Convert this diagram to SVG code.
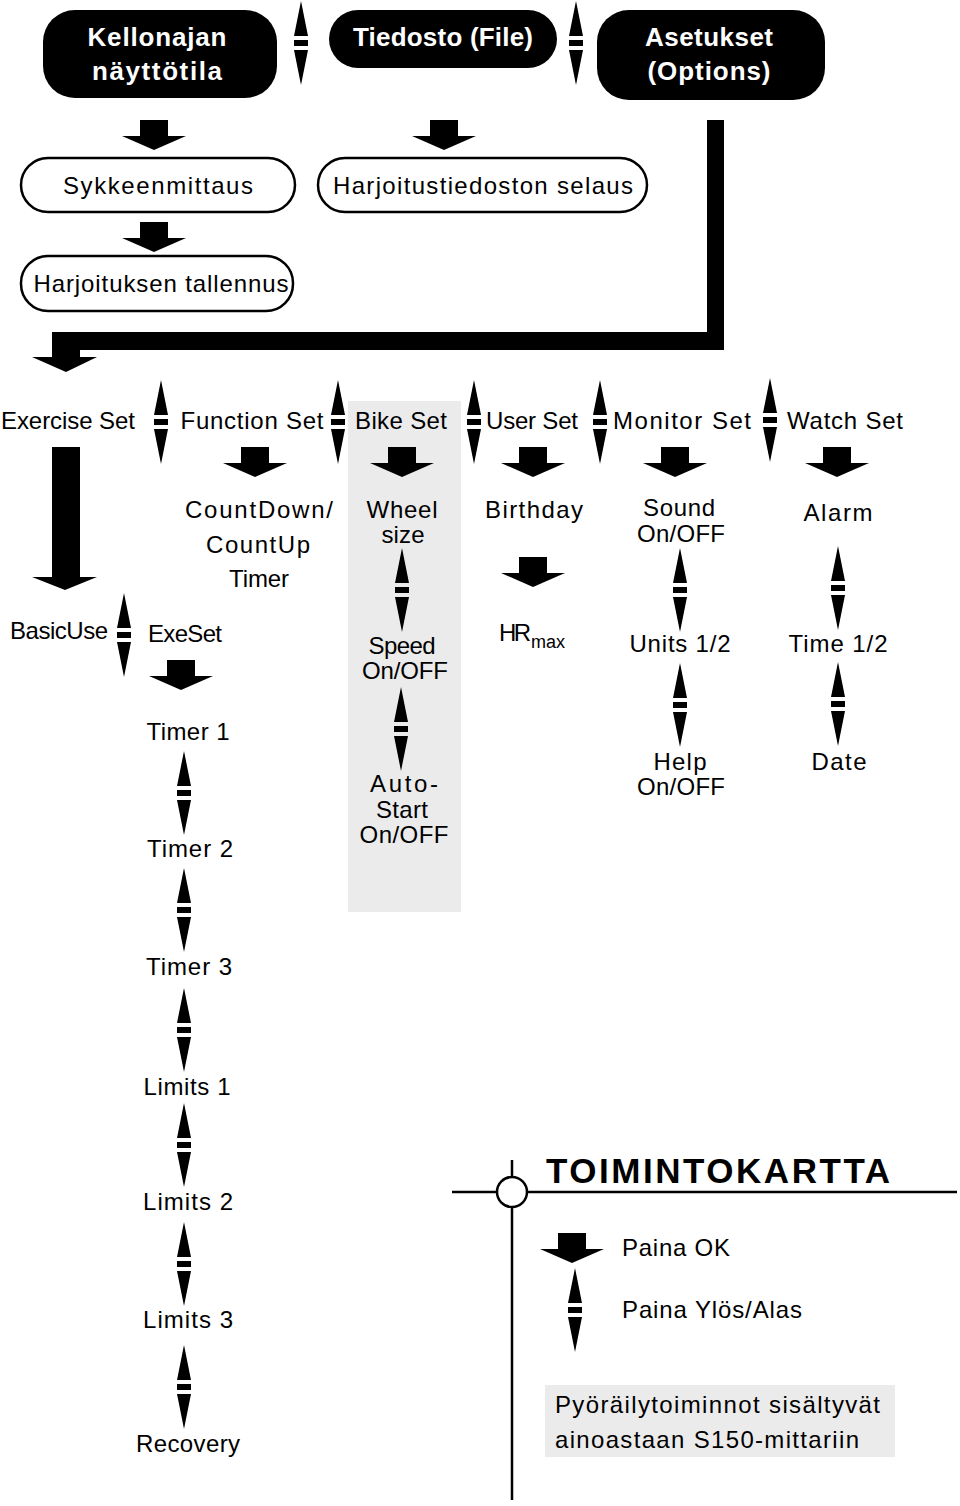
<svg xmlns="http://www.w3.org/2000/svg" xmlns:xlink="http://www.w3.org/1999/xlink" width="960" height="1506" viewBox="0 0 960 1506">
<style>
.t{font-family:"Liberation Sans",Arial,sans-serif;font-size:24px;fill:#000;text-anchor:middle}
.l{text-anchor:start}
.w{font-family:"Liberation Sans",Arial,sans-serif;font-size:26px;font-weight:bold;fill:#fff;text-anchor:middle}
.blk{fill:#000}
.pill{fill:#fff;stroke:#000;stroke-width:2.5}
.gray{fill:#ebebeb}
</style>
<defs>
<g id="ud"><polygon points="0,0 7,35 -7,35"/><rect x="-7" y="39" width="14" height="6"/><polygon points="-7,49 7,49 0,84"/></g>
<g id="dn"><rect x="-14" y="0" width="28" height="16"/><polygon points="-32,16 32,16 0,30"/></g>
</defs>
<rect width="960" height="1506" fill="#fff"/>
<rect id="bike-bg" class="gray" x="348" y="401" width="113" height="511"/>

<g id="n-kello"><rect class="blk" x="43" y="10" width="234" height="88" rx="32"/><text class="w" x="157" y="46" textLength="139" lengthAdjust="spacing">Kellonajan</text><text class="w" x="157" y="80" textLength="130" lengthAdjust="spacing">näyttötila</text></g>
<g id="n-tiedosto"><rect class="blk" x="329" y="10" width="228" height="58" rx="29"/><text class="w" x="443" y="46" textLength="180" lengthAdjust="spacing">Tiedosto (File)</text></g>
<g id="n-asetukset"><rect class="blk" x="597" y="10" width="228" height="90" rx="32"/><text class="w" x="709" y="46" textLength="128" lengthAdjust="spacing">Asetukset</text><text class="w" x="709" y="80" textLength="123" lengthAdjust="spacing">(Options)</text></g>
<g id="n-sykke"><rect class="pill" x="21" y="158" width="274" height="54" rx="27"/><text class="t" x="158" y="194" textLength="190" lengthAdjust="spacing">Sykkeenmittaus</text></g>
<g id="n-selaus"><rect class="pill" x="318" y="158" width="329" height="54" rx="27"/><text class="t" x="483" y="194" textLength="300" lengthAdjust="spacing">Harjoitustiedoston selaus</text></g>
<g id="n-tallennus"><rect class="pill" x="21" y="256" width="272" height="55" rx="27"/><text class="t" x="161" y="292" textLength="255" lengthAdjust="spacing">Harjoituksen tallennus</text></g>

<g id="n-exercise"><text class="t" x="68" y="429" textLength="134" lengthAdjust="spacing">Exercise Set</text></g>
<g id="n-function"><text class="t" x="252" y="429" textLength="143" lengthAdjust="spacing">Function Set</text></g>
<g id="n-bike"><text class="t" x="401" y="429" textLength="92" lengthAdjust="spacing">Bike Set</text></g>
<g id="n-user"><text class="t" x="532" y="429" textLength="92" lengthAdjust="spacing">User Set</text></g>
<g id="n-monitor"><text class="t" x="682" y="429" textLength="138" lengthAdjust="spacing">Monitor Set</text></g>
<g id="n-watch"><text class="t" x="845" y="429" textLength="116" lengthAdjust="spacing">Watch Set</text></g>

<g id="n-countdown"><text class="t" x="259" y="518" textLength="148" lengthAdjust="spacing">CountDown/</text><text class="t" x="258" y="553" textLength="104" lengthAdjust="spacing">CountUp</text><text class="t" x="259" y="587" textLength="60" lengthAdjust="spacing">Timer</text></g>
<g id="n-wheel"><text class="t" x="402" y="518" textLength="71" lengthAdjust="spacing">Wheel</text><text class="t" x="403" y="543" textLength="43" lengthAdjust="spacing">size</text></g>
<g id="n-birthday"><text class="t" x="534" y="518" textLength="98" lengthAdjust="spacing">Birthday</text></g>
<g id="n-sound"><text class="t" x="679" y="516" textLength="72" lengthAdjust="spacing">Sound</text><text class="t" x="681" y="542" textLength="88" lengthAdjust="spacing">On/OFF</text></g>
<g id="n-alarm"><text class="t" x="838" y="521" textLength="69" lengthAdjust="spacing">Alarm</text></g>

<g id="n-basicuse"><text class="t" x="59" y="639" textLength="98" lengthAdjust="spacing">BasicUse</text></g>
<g id="n-exeset"><text class="t" x="185" y="642" textLength="74" lengthAdjust="spacing">ExeSet</text></g>
<g id="n-speed"><text class="t" x="402" y="654" textLength="67" lengthAdjust="spacing">Speed</text><text class="t" x="405" y="679" textLength="86" lengthAdjust="spacing">On/OFF</text></g>
<g id="n-hrmax"><text class="t l" x="499" y="641" textLength="32" lengthAdjust="spacing">HR</text><text class="t l" x="531" y="648" style="font-size:18px">max</text></g>
<g id="n-units"><text class="t" x="680" y="652" textLength="101" lengthAdjust="spacing">Units 1/2</text></g>
<g id="n-time"><text class="t" x="838" y="652" textLength="99" lengthAdjust="spacing">Time 1/2</text></g>

<g id="n-timer1"><text class="t" x="188" y="740" textLength="83" lengthAdjust="spacing">Timer 1</text></g>
<g id="n-autostart"><text class="t" x="404" y="792" textLength="68" lengthAdjust="spacing">Auto-</text><text class="t" x="402" y="818" textLength="52" lengthAdjust="spacing">Start</text><text class="t" x="404" y="843" textLength="89" lengthAdjust="spacing">On/OFF</text></g>
<g id="n-help"><text class="t" x="680" y="770" textLength="53" lengthAdjust="spacing">Help</text><text class="t" x="681" y="795" textLength="88" lengthAdjust="spacing">On/OFF</text></g>
<g id="n-date"><text class="t" x="839" y="770" textLength="55" lengthAdjust="spacing">Date</text></g>
<g id="n-timer2"><text class="t" x="190" y="857" textLength="86" lengthAdjust="spacing">Timer 2</text></g>
<g id="n-timer3"><text class="t" x="189" y="975" textLength="86" lengthAdjust="spacing">Timer 3</text></g>
<g id="n-limits1"><text class="t" x="187" y="1095" textLength="87" lengthAdjust="spacing">Limits 1</text></g>
<g id="n-limits2"><text class="t" x="188" y="1210" textLength="90" lengthAdjust="spacing">Limits 2</text></g>
<g id="n-limits3"><text class="t" x="188" y="1328" textLength="90" lengthAdjust="spacing">Limits 3</text></g>
<g id="n-recovery"><text class="t" x="188" y="1452" textLength="104" lengthAdjust="spacing">Recovery</text></g>

<g id="connectors">
<use xlink:href="#ud" x="301" y="1"/>
<use xlink:href="#ud" x="576" y="1"/>
<use xlink:href="#dn" x="154" y="120"/>
<use xlink:href="#dn" x="444" y="120"/>
<use xlink:href="#dn" x="154" y="222"/>
<polygon class="blk" points="707,120 724,120 724,350 80,350 80,357 97,357 66,372 32,357 52,357 52,332 707,332"/>
<use xlink:href="#ud" x="161" y="380"/>
<use xlink:href="#ud" x="338" y="380"/>
<use xlink:href="#ud" x="474" y="380"/>
<use xlink:href="#ud" x="600" y="380"/>
<use xlink:href="#ud" x="770" y="378"/>
<polygon class="blk" points="52,447 80,447 80,577 97,577 65,590 32,577 52,577"/>
<use xlink:href="#dn" x="255" y="447"/>
<use xlink:href="#dn" x="402" y="447"/>
<use xlink:href="#dn" x="533" y="447"/>
<use xlink:href="#dn" x="675" y="447"/>
<use xlink:href="#dn" x="837" y="447"/>
<use xlink:href="#ud" x="402" y="548"/>
<use xlink:href="#dn" x="533" y="557"/>
<use xlink:href="#ud" x="680" y="548"/>
<use xlink:href="#ud" x="838" y="546"/>
<use xlink:href="#ud" x="124" y="593"/>
<use xlink:href="#dn" x="181" y="660"/>
<use xlink:href="#ud" x="401" y="687"/>
<use xlink:href="#ud" x="680" y="663"/>
<use xlink:href="#ud" x="838" y="662"/>
<use xlink:href="#ud" x="184" y="751"/>
<use xlink:href="#ud" x="184" y="868"/>
<use xlink:href="#ud" x="184" y="988"/>
<use xlink:href="#ud" x="184" y="1103"/>
<use xlink:href="#ud" x="184" y="1222"/>
<use xlink:href="#ud" x="184" y="1345"/>
</g>

<g id="legend">
<line x1="452" y1="1192" x2="957" y2="1192" stroke="#000" stroke-width="2.5"/>
<line x1="512" y1="1160" x2="512" y2="1500" stroke="#000" stroke-width="2.5"/>
<circle cx="512" cy="1192" r="15" fill="#fff" stroke="#000" stroke-width="2.5"/>
<text class="t l" x="546" y="1183" style="font-size:35px;font-weight:bold" textLength="344" lengthAdjust="spacing">TOIMINTOKARTTA</text>
<use xlink:href="#dn" x="572" y="1233"/>
<text class="t l" x="622" y="1256" textLength="108" lengthAdjust="spacing">Paina OK</text>
<use xlink:href="#ud" x="575" y="1268"/>
<text class="t l" x="622" y="1318" textLength="180" lengthAdjust="spacing">Paina Ylös/Alas</text>
<rect class="gray" x="545" y="1385" width="350" height="72"/>
<text class="t l" x="555" y="1413" textLength="325" lengthAdjust="spacing">Pyöräilytoiminnot sisältyvät</text>
<text class="t l" x="555" y="1448" textLength="304" lengthAdjust="spacing">ainoastaan S150-mittariin</text>
</g>
</svg>
